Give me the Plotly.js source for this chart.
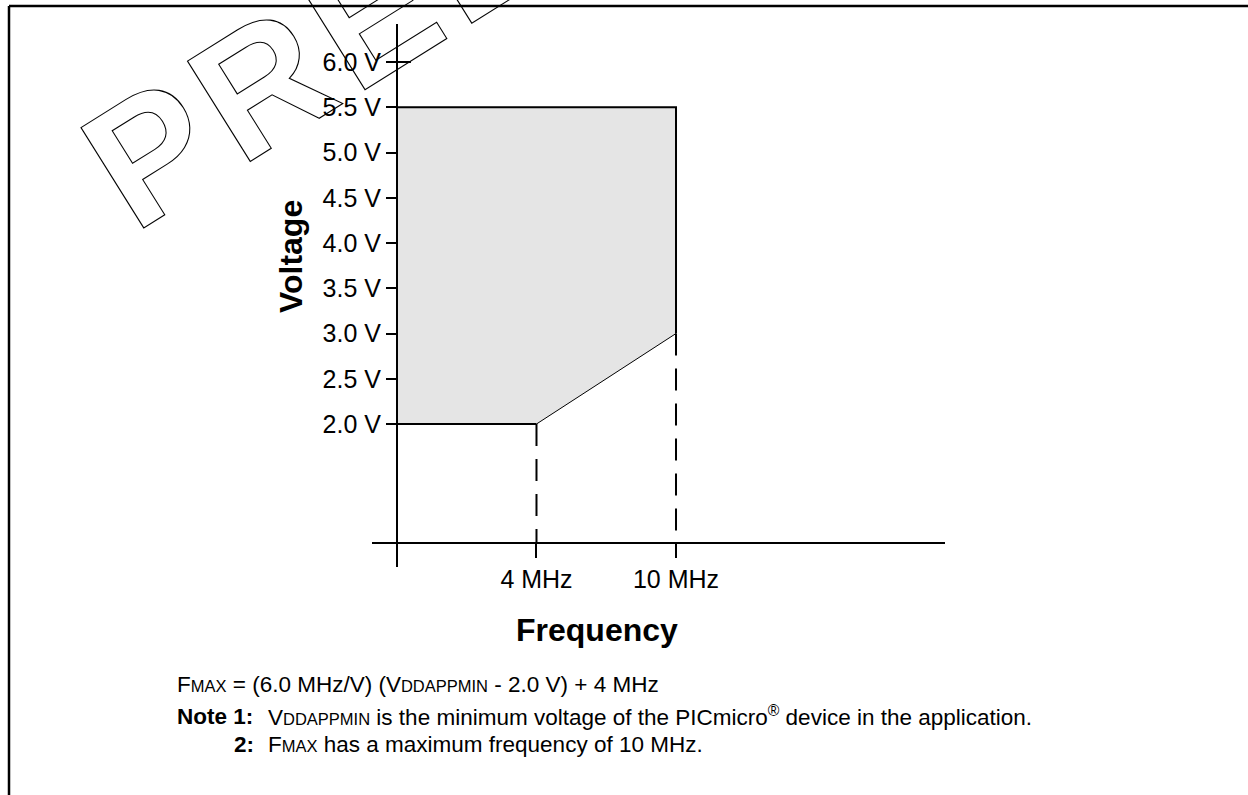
<!DOCTYPE html>
<html>
<head>
<meta charset="utf-8">
<script src="https://cdn.plot.ly/plotly-3.0.1.min.js"></script>
<style>
html, body { margin: 0; padding: 0; background: #ffffff; }
#chart { width: 1248px; height: 795px; }
/* hollow outlined watermark letters */
.annotation[data-index="0"] .annotation-text {
  fill: none !important;
  stroke: #000000 !important;
  stroke-width: 1.1px !important;
  letter-spacing: 11px;
}
</style>
</head>
<body>
<div id="chart"></div>
<script>
// ---------------- data ----------------
const freqCategories = ['0 MHz', '4 MHz', '10 MHz'];
const freqTickLabels = ['4 MHz', '10 MHz'];

const voltTicks = [2.0, 2.5, 3.0, 3.5, 4.0, 4.5, 5.0, 5.5, 6.0];
const voltTickText = ['2.0 V', '2.5 V', '3.0 V', '3.5 V', '4.0 V', '4.5 V', '5.0 V', '5.5 V', '6.0 V'];

// operating region (shaded)
const regionFreq = ['0 MHz', '0 MHz', '10 MHz', '10 MHz', '4 MHz', '0 MHz'];
const regionVolt = [2.0, 5.5, 5.5, 3.0, 2.0, 2.0];

// region edges
const upperEdgeFreq = ['0 MHz', '10 MHz', '10 MHz'];
const upperEdgeVolt = [5.5, 5.5, 3.0];
const lowerEdgeFreq = ['0 MHz', '4 MHz'];
const lowerEdgeVolt = [2.0, 2.0];
const slopeFreq = ['4 MHz', '10 MHz'];
const slopeVolt = [2.0, 3.0];

// dashed guides drop from these corner points to the frequency axis
const guideFreq = ['4 MHz', '10 MHz'];
const guideVolt = [2.0, 3.0];

// ---------------- layout helpers ----------------
const W = 1248, H = 795;
const PL = 372, PR = 945, PT = 24, PB = 567;       // plot area in pixels
const xRange = [-0.179, 3.928];
const yRange = [0.42, 6.42];
const xAxisAtVolt = 0.685;                          // where the frequency axis crosses
const px = x => (x - PL) / (PR - PL);
const py = y => (PB - y) / (PB - PT);
const FONT = 'Liberation Sans, Arial, Helvetica, sans-serif';
const NOTE_SIZE = 22.5;

const traces = [
  {
    type: 'scatter', mode: 'lines',
    x: regionFreq, y: regionVolt,
    fill: 'toself', fillcolor: 'rgb(229,229,229)',
    line: { width: 0, color: 'rgba(0,0,0,0)' },
    hoverinfo: 'skip', showlegend: false
  },
  {
    type: 'scatter', mode: 'lines',
    x: upperEdgeFreq, y: upperEdgeVolt,
    line: { width: 2, color: '#000' }, hoverinfo: 'skip', showlegend: false
  },
  {
    type: 'scatter', mode: 'lines',
    x: lowerEdgeFreq, y: lowerEdgeVolt,
    line: { width: 2, color: '#000' }, hoverinfo: 'skip', showlegend: false
  },
  {
    type: 'scatter', mode: 'lines',
    x: slopeFreq, y: slopeVolt,
    line: { width: 1, color: '#000' }, hoverinfo: 'skip', showlegend: false
  }
];
guideFreq.forEach((f, i) => {
  traces.push({
    type: 'scatter', mode: 'lines',
    x: [f, f], y: [guideVolt[i], xAxisAtVolt],
    line: { width: 2, color: '#000', dash: '22px,13px' },
    hoverinfo: 'skip', showlegend: false
  });
});

const yAxisPos = (0 - xRange[0]) / (xRange[1] - xRange[0]);
const xAxisPos = (xAxisAtVolt - yRange[0]) / (yRange[1] - yRange[0]);

const small = s => '<span style="font-size:16.5px">' + s + '</span>';

const layout = {
  width: W, height: H,
  margin: { l: PL, r: W - PR, t: PT, b: H - PB, pad: 0 },
  paper_bgcolor: '#ffffff', plot_bgcolor: 'rgba(0,0,0,0)',
  font: { family: FONT, color: '#000' },
  showlegend: false,
  xaxis: {
    type: 'category', categoryorder: 'array', categoryarray: freqCategories,
    range: xRange, anchor: 'free', position: xAxisPos,
    showline: true, linewidth: 2, linecolor: '#000',
    ticks: 'outside', ticklen: 14, tickwidth: 2, tickcolor: '#000',
    tickmode: 'array', tickvals: freqTickLabels, ticktext: freqTickLabels,
    tickfont: { family: FONT, size: 25, color: '#000' },
    showgrid: false, zeroline: false, fixedrange: true
  },
  yaxis: {
    range: yRange, anchor: 'free', position: yAxisPos,
    showline: true, linewidth: 2, linecolor: '#000',
    ticks: 'outside', ticklen: 10, tickwidth: 2, tickcolor: '#000',
    tickmode: 'array', tickvals: voltTicks, ticktext: voltTickText,
    tickfont: { family: FONT, size: 25, color: '#000' },
    showgrid: false, zeroline: false, fixedrange: true
  },
  shapes: [
    // page frame
    { type: 'line', xref: 'paper', yref: 'paper', x0: px(9), x1: px(1260), y0: py(6), y1: py(6),
      line: { color: '#000', width: 2.5 } },
    { type: 'line', xref: 'paper', yref: 'paper', x0: px(9), x1: px(9), y0: py(6), y1: py(810),
      line: { color: '#000', width: 2.5 } },
    // cross tick at the top voltage mark
    { type: 'line', xref: 'x', yref: 'y', x0: 0, x1: 0.1, y0: 6.0, y1: 6.0,
      line: { color: '#000', width: 2 } }
  ],
  annotations: [
    { // watermark (index 0: outlined via CSS)
      text: 'PRELIMINARY', xref: 'paper', yref: 'paper',
      x: px(653), y: py(-161), xanchor: 'center', yanchor: 'middle',
      textangle: -32, showarrow: false,
      font: { family: FONT, size: 172, weight: 700, color: '#ffffff' }
    },
    {
      text: 'Voltage', xref: 'paper', yref: 'paper', x: px(291), y: py(257),
      xanchor: 'center', yanchor: 'middle', textangle: -90, showarrow: false,
      font: { family: FONT, size: 32, weight: 700, color: '#000' }
    },
    {
      text: 'Frequency', xref: 'paper', yref: 'paper', x: px(597), y: py(630),
      xanchor: 'center', yanchor: 'middle', showarrow: false,
      font: { family: FONT, size: 32, weight: 700, color: '#000' }
    },
    {
      text: 'F' + small('MAX') + ' = (6.0 MHz/V) (V' + small('DDAPPMIN') + ' - 2.0 V) + 4 MHz',
      xref: 'paper', yref: 'paper', x: px(175), y: py(684),
      xanchor: 'left', yanchor: 'middle', showarrow: false,
      font: { family: FONT, size: NOTE_SIZE, color: '#000' }
    },
    {
      text: '<b>Note 1:</b>', xref: 'paper', yref: 'paper', x: px(175), y: py(716),
      xanchor: 'left', yanchor: 'middle', showarrow: false,
      font: { family: FONT, size: NOTE_SIZE, color: '#000' }
    },
    {
      text: '<b>2:</b>', xref: 'paper', yref: 'paper', x: px(256), y: py(744),
      xanchor: 'right', yanchor: 'middle', showarrow: false,
      font: { family: FONT, size: NOTE_SIZE, color: '#000' }
    },
    {
      text: 'V' + small('DDAPPMIN') + ' is the minimum voltage of the PICmicro<sup>®</sup> device in the application.',
      xref: 'paper', yref: 'paper', x: px(266), y: py(716),
      xanchor: 'left', yanchor: 'middle', showarrow: false,
      font: { family: FONT, size: NOTE_SIZE, color: '#000' }
    },
    {
      text: 'F' + small('MAX') + ' has a maximum frequency of 10 MHz.',
      xref: 'paper', yref: 'paper', x: px(266), y: py(744),
      xanchor: 'left', yanchor: 'middle', showarrow: false,
      font: { family: FONT, size: NOTE_SIZE, color: '#000' }
    }
  ]
};

Plotly.newPlot('chart', traces, layout, { staticPlot: true, displayModeBar: false });
</script>
</body>
</html>
